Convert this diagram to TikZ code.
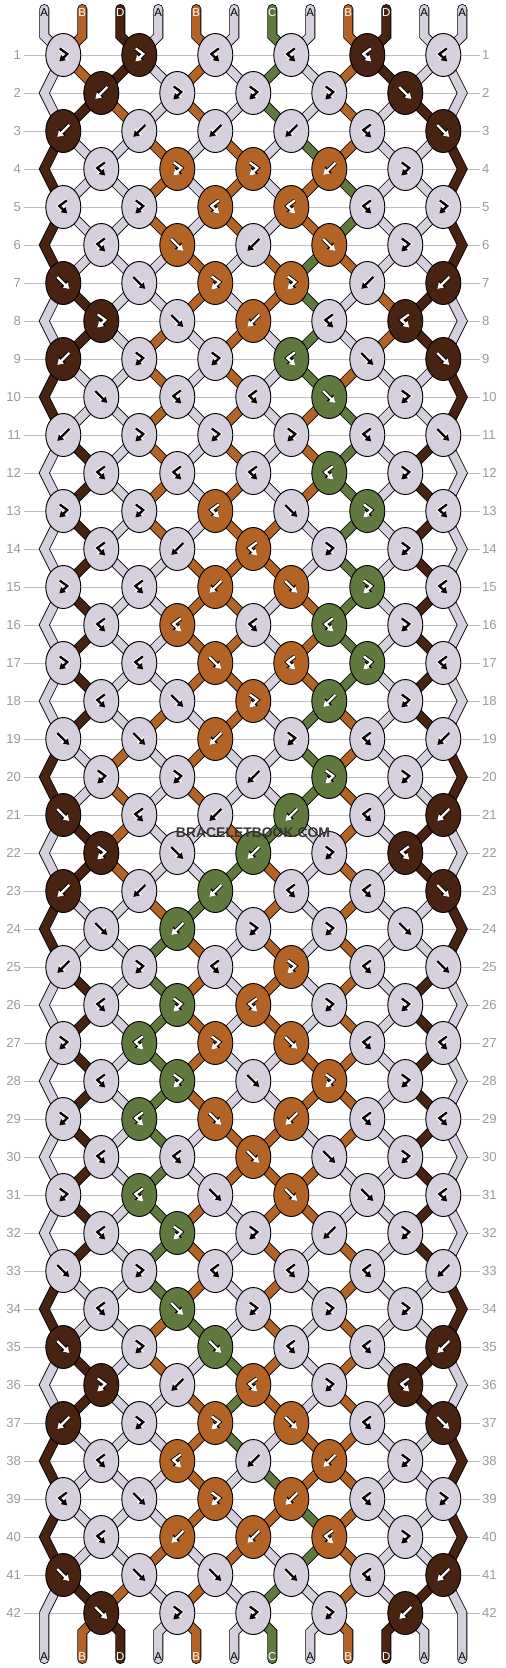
\documentclass[tikz,border=0pt]{standalone}
\usepackage{fontspec}
\setmainfont{Liberation Sans}
\usetikzlibrary{shapes.geometric, arrows.meta, backgrounds}

\definecolor{colA}{RGB}{214,208,222}
\definecolor{colB}{RGB}{179,99,37}
\definecolor{colC}{RGB}{95,121,63}
\definecolor{colD}{RGB}{72,35,18}
\definecolor{rowgray}{RGB}{155,155,155}
\definecolor{gridgray}{RGB}{190,190,190}
\definecolor{markgray}{RGB}{55,55,55}
\colorlet{txtA}{black}\colorlet{txtB}{white}\colorlet{txtC}{white}\colorlet{txtD}{white}
\colorlet{glyphA}{black}\colorlet{haloA}{white}
\colorlet{glyphB}{white}\colorlet{haloB}{black}
\colorlet{glyphC}{white}\colorlet{haloC}{black}
\colorlet{glyphD}{white}\colorlet{haloD}{black}

% f and b knots exchange the two threads
\newcommand\swapthreads{%
  \expandafter\xdef\csname pos\pl\endcsname{\cr}%
  \expandafter\xdef\csname pos\pr\endcsname{\cl}}
% thread segments are collected here and drawn once, under the knots
\gdef\threadcmds{}
\newcommand\addthread[1]{\xdef\threadcmds{\unexpanded\expandafter{\threadcmds}#1}}

\tikzset{
  knot/.style={ellipse, draw=black, line width=0.8pt, fill=#1, inner sep=0pt,
    minimum width=1.05cm, minimum height=1.29cm},
  thread/.style={draw=black, line width=0.7pt, double=#1, double distance=7.1pt},
  glyph/.style={draw=kglyph, line width=2pt, -{Triangle[length=5pt,width=5.8pt]},
    preaction={draw=khalo, line width=3.5pt, -{Triangle[length=6.4pt,width=7.6pt]}}},
  threadlabel/.style={text=#1, font=\fontsize{9.8}{10}\selectfont, inner sep=0pt},
  rowno/.style={text=rowgray, font=\fontsize{11.2}{12}\selectfont, inner sep=2pt},
  rowline/.style={draw=gridgray, line width=0.8pt},
  pics/knotf/.style={code={\draw[glyph] (-6,-6) -- (6,6);}},
  pics/knotb/.style={code={\draw[glyph] (6,-6) -- (-6,6);}},
  pics/knotr/.style={code={\draw[glyph] (-3.5,-6.5) -- (4,-1) -- (-4,6.5);}},
  pics/knotl/.style={code={\draw[glyph] (3.5,-6.5) -- (-4,-1) -- (4,6.5);}},
}

\begin{document}
\begin{tikzpicture}[x=0.03cm, y=-0.03cm]
\useasboundingbox (0,0) rectangle (506,1668);

% row numbers
\foreach \rw in {1,...,42} {
  \pgfmathsetmacro\ky{55+38*(\rw-1)}
  \node[rowno, anchor=east] (nl-\rw) at (23.5,\ky) {\rw};
  \node[rowno, anchor=west] (nr-\rw) at (479.5,\ky) {\rw};
  \ifodd\rw\relax\else
    \coordinate (el-\rw) at (44.3,\ky);
    \coordinate (er-\rw) at (462.3,\ky);
  \fi
}

% threads at the top
\foreach \thr [count=\ps] in {A,B,D,A,B,A,C,A,B,D,A,A} {
  \expandafter\xdef\csname pos\ps\endcsname{\thr}
  \pgfmathsetmacro\sx{44.3+38*(\ps-1)}
  \coordinate (top-\ps) at (\sx,9);
  \node[threadlabel=txt\thr] (tl-\ps) at (\sx,12.5) {\thr};
}

% knots, row by row: f, b, r = forward-backward, l = backward-forward
\foreach \ks [count=\rw] in {%
  {r,r,l,l,l,l},{b,r,r,r,f},{b,b,b,b,l,f},{l,r,r,b,r},{l,r,l,l,l,r},%
  {l,f,b,f,r},{f,f,r,r,b,b},{r,f,b,l,l},{b,r,r,l,f,f},{f,l,l,f,r},%
  {b,r,r,r,l,f},{l,l,l,l,r},{r,r,l,f,r,l},{l,b,l,r,r},{r,l,b,f,r,l},%
  {l,l,l,l,r},{r,l,f,l,r,l},{l,f,r,b,r},{f,f,b,r,l,b},{r,r,b,r,r},%
  {f,l,b,b,l,b},{r,f,b,r,l},{b,b,b,l,l,f},{f,b,r,r,f},{b,r,l,r,l,f},%
  {l,r,l,r,r},{r,l,r,f,l,l},{l,r,f,r,r},{r,l,f,b,l,l},{l,l,f,f,r},%
  {r,l,f,f,f,l},{l,r,r,b,r},{f,r,l,l,l,b},{l,f,r,r,r},{f,r,f,l,l,b},%
  {r,b,l,r,l},{b,r,r,f,l,f},{l,l,b,b,r},{l,f,r,b,l,r},{l,b,b,l,r},%
  {f,f,f,f,l,b},{f,r,r,r,b}%
}{
  \pgfmathsetmacro\ky{55+38*(\rw-1)}
  \pgfmathtruncatemacro\pv{\rw-1}
  \pgfmathtruncatemacro\pw{\rw-2}
  \foreach \kt [count=\kj] in \ks {
    \ifodd\rw
      \pgfmathtruncatemacro\pl{2*\kj-1}
      \pgfmathsetmacro\kx{76*\kj-12.7}
    \else
      \pgfmathtruncatemacro\pl{2*\kj}
      \pgfmathsetmacro\kx{76*\kj+25.3}
    \fi
    \pgfmathtruncatemacro\pr{\pl+1}
    \edef\cl{\csname pos\pl\endcsname}
    \edef\cr{\csname pos\pr\endcsname}
    \if\kt f\let\kc\cl\fi
    \if\kt r\let\kc\cl\fi
    \if\kt b\let\kc\cr\fi
    \if\kt l\let\kc\cr\fi
    \colorlet{kglyph}{glyph\kc}
    \colorlet{khalo}{halo\kc}
    \node[knot=col\kc] (k-\rw-\kj) at (\kx,\ky) {};
    \edef\drawglyph{\noexpand\pic at (k-\rw-\kj) {knot\kt};}
    \drawglyph
    % threads coming in from above
    \ifnum\rw=1
      \addthread{\noexpand\draw[thread=col\cl, line cap=round] (top-\pl) -- ++(0,27) -- (k-1-\kj.center);}
      \addthread{\noexpand\draw[thread=col\cr, line cap=round] (top-\pr) -- ++(0,27) -- (k-1-\kj.center);}
    \else\ifodd\rw
      \ifnum\kj=1
        \addthread{\noexpand\draw[thread=col\cl] (k-\pw-1.center) -- (el-\pv) -- (k-\rw-1.center);}
      \else
        \pgfmathtruncatemacro\pj{\kj-1}
        \addthread{\noexpand\draw[thread=col\cl] (k-\pv-\pj.center) -- (k-\rw-\kj.center);}
      \fi
      \ifnum\kj=6
        \addthread{\noexpand\draw[thread=col\cr] (k-\pw-6.center) -- (er-\pv) -- (k-\rw-6.center);}
      \else
        \addthread{\noexpand\draw[thread=col\cr] (k-\pv-\kj.center) -- (k-\rw-\kj.center);}
      \fi
    \else
      \addthread{\noexpand\draw[thread=col\cl] (k-\pv-\kj.center) -- (k-\rw-\kj.center);}
      \pgfmathtruncatemacro\pj{\kj+1}
      \addthread{\noexpand\draw[thread=col\cr] (k-\pv-\pj.center) -- (k-\rw-\kj.center);}
    \fi\fi
    \if\kt f\swapthreads\fi
    \if\kt b\swapthreads\fi
  }
}

% threads at the bottom
\foreach \ps in {1,...,12} {
  \edef\cb{\csname pos\ps\endcsname}
  \pgfmathsetmacro\sx{44.3+38*(\ps-1)}
  \coordinate (bot-\ps) at (\sx,1659);
  \node[threadlabel=txt\cb] (bl-\ps) at (\sx,1656.5) {\cb};
  \ifnum\ps=1
    \addthread{\noexpand\draw[thread=col\cb, line cap=round] (k-41-1.center) -- (el-42) -- (bot-1);}
  \else\ifnum\ps=12
    \addthread{\noexpand\draw[thread=col\cb, line cap=round] (k-41-6.center) -- (er-42) -- (bot-12);}
  \else
    \pgfmathtruncatemacro\kj{\ps/2}
    \ifodd\ps\def\dx{19}\else\def\dx{-19}\fi
    \addthread{\noexpand\draw[thread=col\cb, line cap=round] (k-42-\kj.center) -- ++(\dx,19) -- (bot-\ps);}
  \fi\fi
}

\node[font=\bfseries\fontsize{11.9}{12}\selectfont, text=markgray] (mark) at (253,832.7) {BRACELETBOOK.COM};

\begin{scope}[on background layer]
  \fill[white] (0,0) rectangle (506,1668);
  \foreach \rw in {1,...,42} {\draw[rowline] (nl-\rw.east) -- (nr-\rw.west);}
  \threadcmds
\end{scope}
\end{tikzpicture}
\end{document}
